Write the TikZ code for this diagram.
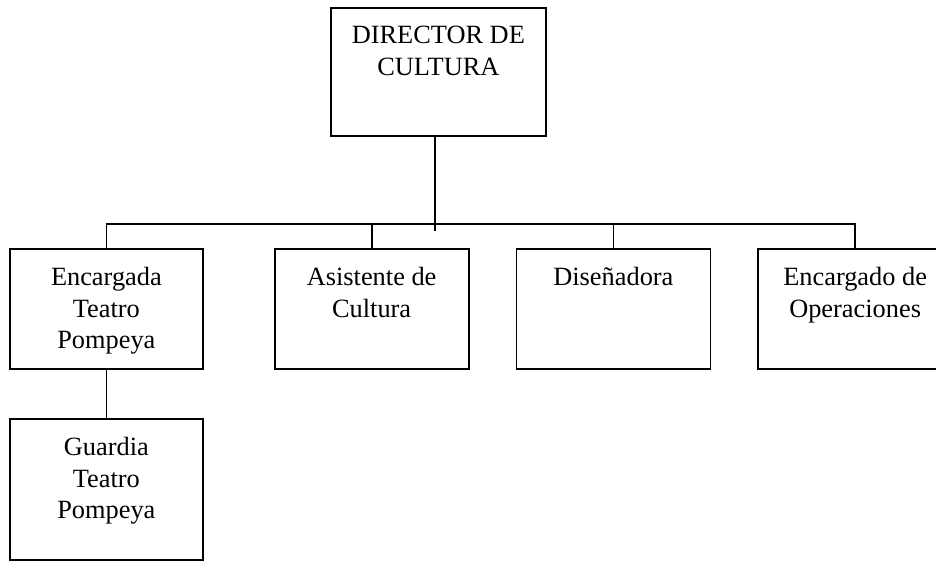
\documentclass[tikz,border=0pt]{standalone}
\usepackage{fontspec}
\setmainfont{Liberation Serif}
\usetikzlibrary{positioning,calc}

\newcommand{\puesto}[3]{\parbox[c][#2][t]{#1}{\centering\vspace*{10.5pt}#3}}

\begin{document}
\begin{tikzpicture}[
    node distance=0.98cm,
    cargo/.style={rectangle, draw, line width=1pt, inner sep=0pt, font=\fontsize{15}{18}\selectfont},
    linea/.style={line width=1pt}
]
    \useasboundingbox (0,0) rectangle (18.72,-11.24);

    \node[cargo, anchor=north west] (dir) at (6.6,-0.14) {\puesto{4.3cm}{2.56cm}{DIRECTOR DE\\CULTURA}};
    \node[cargo, anchor=north west] (e1) at (0.18,-4.96) {\puesto{3.86cm}{2.4cm}{Encargada\\Teatro\\Pompeya}};
    \node[cargo, right=1.4cm of e1] (e2) {\puesto{3.88cm}{2.4cm}{Asistente de\\Cultura}};
    \node[cargo, right=0.92cm of e2] (e3) {\puesto{3.88cm}{2.4cm}{Diseñadora}};
    \node[cargo, right=0.92cm of e3] (e4) {\puesto{3.88cm}{2.4cm}{Encargado de\\Operaciones}};
    \node[cargo, below=0.96cm of e1] (e5) {\puesto{3.86cm}{2.82cm}{Guardia\\Teatro\\Pompeya}};

    \coordinate (barra) at (0,-4.48);
    \coordinate (salida) at ($(dir.south)+(-0.07,0)$);
    \coordinate (cruce) at ($(salida)+(0,-1.88)$);

    \draw[linea] (salida) -- (cruce);
    \draw[linea] (e1.north) -- (e1.north |- barra) -- (e4.north |- barra) -- (e4.north);
    \draw[linea] (e2.north) -- (e2.north |- barra);
    \draw[linea] (e3.north) -- (e3.north |- barra);
    \draw[linea] (e1.south) -- (e5.north);
\end{tikzpicture}
\end{document}
